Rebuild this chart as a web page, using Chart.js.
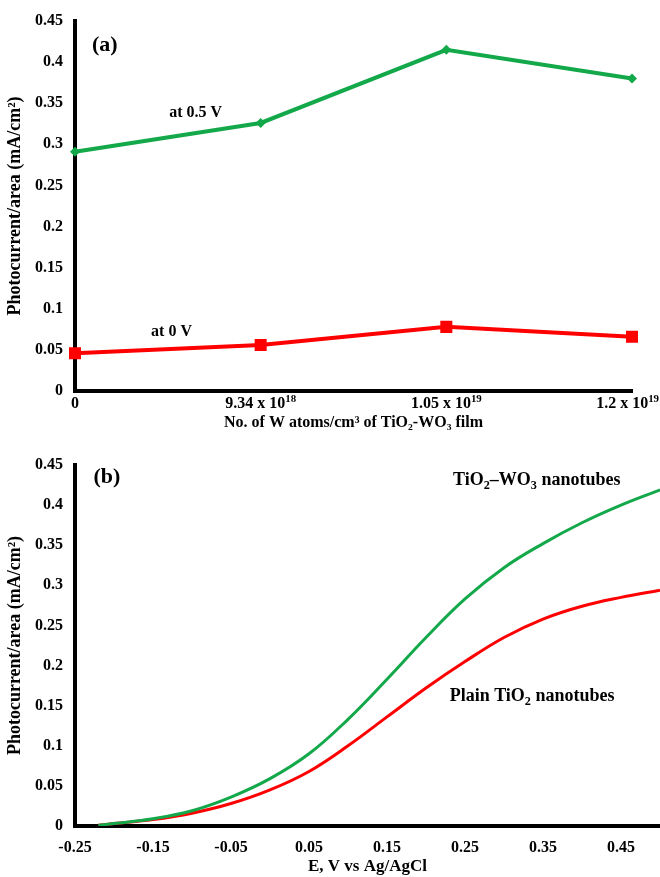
<!DOCTYPE html>
<html>
<head>
<meta charset="utf-8">
<script src="https://cdn.jsdelivr.net/npm/chart.js@4.4.1/dist/chart.umd.min.js"></script>
<style>
  html, body { margin: 0; padding: 0; background: #fff; }
  #wrapA { position: absolute; left: 0; top: 0; width: 660px; height: 440px; }
  #wrapB { position: absolute; left: 0; top: 440px; width: 660px; height: 437px; }
</style>
</head>
<body>
<div id="wrapA"><canvas id="chartA"></canvas></div>
<div id="wrapB"><canvas id="chartB"></canvas></div>
<script>
// (a) photocurrent vs W content of the film ("^" marks a superscript)
const dopingLabels = ['0', '9.34 x 10^18', '1.05 x 10^19', '1.2 x 10^19'];
const currentAt05V = [0.291, 0.326, 0.415, 0.38];
const currentAt0V = [0.046, 0.056, 0.078, 0.066];

// shared y ticks
const yTicks = [0, 0.05, 0.1, 0.15, 0.2, 0.25, 0.3, 0.35, 0.4, 0.45];

// (b) photocurrent vs applied potential
const potential = [-0.22, -0.2, -0.15, -0.1, -0.05, 0, 0.05, 0.1, 0.15, 0.2, 0.25, 0.3, 0.35, 0.4, 0.45, 0.5];
const currentTiWO = [0.001, 0.003, 0.009, 0.019, 0.036, 0.059, 0.09, 0.133, 0.183, 0.235, 0.283, 0.322, 0.352, 0.378, 0.4, 0.419];
const currentTiO2 = [0.001, 0.003, 0.008, 0.016, 0.028, 0.045, 0.068, 0.1, 0.136, 0.172, 0.205, 0.235, 0.258, 0.274, 0.285, 0.294];
const potentialTicks = [-0.25, -0.15, -0.05, 0.05, 0.15, 0.25, 0.35, 0.45];

const serif = "'Liberation Serif', 'Times New Roman', serif";
const GREEN = '#13a84a';
const RED = '#ff0000';

Chart.defaults.font.family = serif;
Chart.defaults.font.weight = 'bold';
Chart.defaults.font.size = 16;
Chart.defaults.color = '#000';
Chart.defaults.animation = false;

// fixed axis sizes so the plot area lands where the original one is
const fixY = w => s => { s.width = w; s.paddingTop = 0; s.paddingBottom = 0; };
const fixX = h => s => { s.height = h; s.paddingLeft = 0; s.paddingRight = 0; };

// draws a run of text parts (normal / 'sub' / 'sup') centred on cx
function richText(ctx, parts, cx, cy, size, maxRight) {
  let w = 0;
  const segs = parts.map(([t, kind]) => {
    const sz = kind ? size * 0.68 : size;
    ctx.font = 'bold ' + sz + 'px ' + serif;
    const m = ctx.measureText(t).width;
    w += m;
    return { t, kind, sz, m };
  });
  let x = cx - w / 2;
  if (maxRight !== undefined && x + w > maxRight) x = maxRight - w;
  segs.forEach(s => {
    ctx.font = 'bold ' + s.sz + 'px ' + serif;
    const dy = s.kind === 'sub' ? size * 0.3 : (s.kind === 'sup' ? -size * 0.32 : 0);
    ctx.fillText(s.t, x, cy + dy);
    x += s.m;
  });
}

const splitSup = str => {
  const [base, sup] = str.split('^');
  return sup ? [[base], [sup, 'sup']] : [[base]];
};

// text labels placed in data coordinates
const notesPlugin = {
  id: 'notes',
  afterDraw(chart, args, opts) {
    const ctx = chart.ctx;
    const xs = chart.scales.x, ys = chart.scales.y;
    ctx.save();
    ctx.fillStyle = '#000';
    ctx.textBaseline = 'middle';
    ctx.textAlign = 'left';
    (opts.items || []).forEach(n => {
      richText(ctx, n.parts, xs.getPixelForValue(n.x), ys.getPixelForValue(n.y), n.size);
    });
    if (opts.richTicks) {
      xs.ticks.forEach((t, i) => {
        const lbl = chart.data.labels[t.value];
        richText(ctx, splitSup(lbl), xs.getPixelForTick(i), xs.top + 13, 16, chart.width - 1);
      });
    }
    ctx.restore();
  }
};

const yAxis = (width) => ({
  min: 0,
  max: 0.45,
  afterBuildTicks: s => { s.ticks = yTicks.map(v => ({ value: v })); },
  afterFit: fixY(width),
  grid: { display: false, drawTicks: false },
  border: { display: true, color: '#000', width: 4 },
  ticks: { padding: 12, callback: v => String(v) },
  title: {
    display: true,
    text: 'Photocurrent/area (mA/cm\u00b2)',
    font: { size: 18, weight: 'bold' },
    padding: { top: 5, bottom: 0 }
  }
});

new Chart(document.getElementById('chartA'), {
  type: 'line',
  data: {
    labels: dopingLabels,
    datasets: [
      {
        label: 'at 0.5 V',
        data: currentAt05V,
        borderColor: GREEN,
        backgroundColor: GREEN,
        borderWidth: 4,
        pointStyle: 'rectRot',
        pointRadius: 5,
        pointBorderWidth: 0,
        tension: 0
      },
      {
        label: 'at 0 V',
        data: currentAt0V,
        borderColor: RED,
        backgroundColor: RED,
        borderWidth: 4,
        pointStyle: 'rect',
        pointRadius: 8.5,
        pointBorderWidth: 0,
        tension: 0
      }
    ]
  },
  options: {
    responsive: true,
    maintainAspectRatio: false,
    layout: { padding: { top: 21, right: 28, bottom: 0, left: 0 } },
    plugins: {
      legend: { display: false },
      tooltip: { enabled: false },
      notes: {
        richTicks: true,
        items: [
          { parts: [['(a)']], x: 0.16, y: 0.421, size: 22 },
          { parts: [['at 0.5 V']], x: 0.65, y: 0.338, size: 16 },
          { parts: [['at 0 V']], x: 0.52, y: 0.072, size: 16 }
        ]
      }
    },
    scales: {
      x: {
        type: 'category',
        offset: false,
        afterFit: fixX(49),
        grid: { display: false, drawTicks: false },
        border: { display: true, color: '#000', width: 4 },
        ticks: { display: false, autoSkip: false },
        title: {
          display: true,
          text: 'No. of W atoms/cm\u00b3 of TiO\u2082-WO\u2083 film',
          font: { size: 16, weight: 'bold' },
          padding: { top: 0, bottom: 8 }
        }
      },
      y: yAxis(75)
    }
  },
  plugins: [notesPlugin]
});

new Chart(document.getElementById('chartB'), {
  type: 'line',
  data: {
    datasets: [
      {
        label: 'TiO2-WO3 nanotubes',
        data: potential.map((v, i) => ({ x: v, y: currentTiWO[i] })),
        borderColor: GREEN,
        borderWidth: 3,
        pointRadius: 0,
        tension: 0.4
      },
      {
        label: 'Plain TiO2 nanotubes',
        data: potential.map((v, i) => ({ x: v, y: currentTiO2[i] })),
        borderColor: RED,
        borderWidth: 3,
        pointRadius: 0,
        tension: 0.4
      }
    ]
  },
  options: {
    responsive: true,
    maintainAspectRatio: false,
    layout: { padding: { top: 25, right: 0, bottom: 0, left: 0 } },
    plugins: {
      legend: { display: false },
      tooltip: { enabled: false },
      notes: {
        items: [
          { parts: [['(b)']], x: -0.209, y: 0.435, size: 22 },
          { parts: [['TiO'], ['2', 'sub'], ['\u2013WO'], ['3', 'sub'], [' nanotubes']], x: 0.342, y: 0.431, size: 18 },
          { parts: [['Plain TiO'], ['2', 'sub'], [' nanotubes']], x: 0.336, y: 0.161, size: 18 }
        ]
      }
    },
    scales: {
      x: {
        type: 'linear',
        min: -0.25,
        max: 0.5,
        afterBuildTicks: s => { s.ticks = potentialTicks.map(v => ({ value: v })); },
        afterFit: fixX(51),
        grid: { display: false, drawTicks: false },
        border: { display: true, color: '#000', width: 4 },
        ticks: { padding: 12, maxRotation: 0, autoSkip: false, callback: v => v.toFixed(2) },
        title: {
          display: true,
          text: 'E, V vs Ag/AgCl',
          font: { size: 17, weight: 'bold' },
          padding: { top: 0, bottom: 0 }
        }
      },
      y: yAxis(75)
    }
  },
  plugins: [notesPlugin]
});
</script>
</body>
</html>
